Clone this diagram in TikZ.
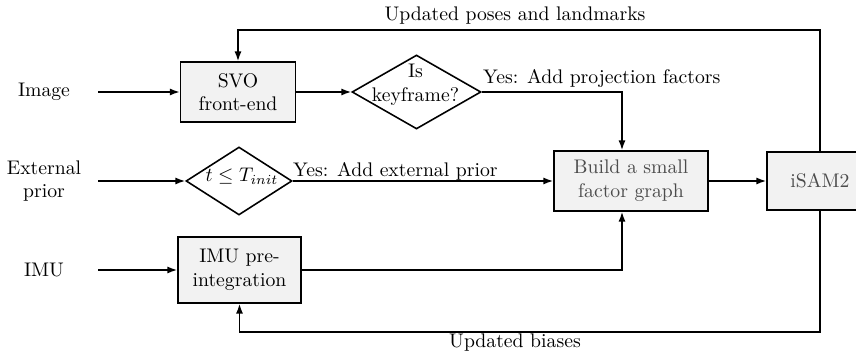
\documentclass[tikz,border=0pt]{standalone}
\usetikzlibrary{arrows.meta,shapes.geometric,calc}
\def\upx{0.5076pt}
\begin{document}
\begin{tikzpicture}[x=\upx,y=-\upx,
  every node/.style={font=\fontsize{10}{12}\selectfont},
  block/.style={draw,thick,fill=black!5,align=center,inner sep=0pt},
  decision/.style={draw,thick,diamond,inner sep=0pt},
  lbl/.style={align=center},
  arr/.style={thick,-{Latex[length=5pt,width=3.6pt]}},
  wire/.style={thick}]
  \useasboundingbox (0,0) rectangle (856,355);
  \clip (0,0) rectangle (856,355);

  % inputs
  \node[lbl] (img) at (44,92) {Image};
  \node[lbl] (ext) at (44,181) {External\\prior};
  \node[lbl] (imu) at (44,270) {IMU};
  \coordinate (inimg) at (98,92);
  \coordinate (inext) at (98,181);
  \coordinate (inimu) at (98,270);

  % processing blocks
  \node[block,minimum width=115*\upx,minimum height=60*\upx] (svo) at (238,92) {SVO\\front-end};
  \node[decision,minimum width=129*\upx,minimum height=74*\upx,
        label={[xshift=-1*\upx,yshift=7*\upx]center:{\begin{tabular}{@{}c@{}}Is\\keyframe?\end{tabular}}}] (kf) at (416.5,92) {};
  \node[decision,minimum width=106*\upx,minimum height=68*\upx,
        label={[xshift=3*\upx,yshift=5*\upx]center:{$t\leq T_{init}$}}] (tin) at (239,181) {};
  \node[block,minimum width=123*\upx,minimum height=66*\upx] (pre) at (239.5,270) {IMU pre-\\integration};
  \node[block,text=black!70,minimum width=154*\upx,minimum height=60*\upx] (build) at (631,181) {Build a small\\factor graph};
  \node[block,text=black!70,minimum width=106*\upx,minimum height=58*\upx] (isam) at (820,181) {iSAM2};

  \coordinate (bt) at ([xshift=-9*\upx]build.north);
  \coordinate (bb) at ([xshift=-9*\upx]build.south);
  \coordinate (topy) at (0,30);
  \coordinate (boty) at (0,332);

  % connectors
  \draw[arr] (inimg) -- (svo.west);
  \draw[arr] (inext) -- (tin.west);
  \draw[arr] (inimu) -- (pre.west);
  \draw[arr] (svo.east) -- (kf.west);
  \draw[arr] (kf.east) -| (bt);
  \draw[arr] (tin.east) -- (build.west);
  \draw[arr] (pre.east) -| (bb);
  \draw[arr] (build.east) -- (isam.west);
  \draw[arr] (isam.north) |- (topy -| svo.north) -- (svo.north);
  \draw[arr] (isam.south) |- (boty -| pre.south) -- (pre.south);

  % connector labels
  \node[anchor=south west,inner sep=0pt] (yproj) at ([shift={(1,-4)}]kf.east) {Yes: Add projection factors};
  \node[anchor=south west,inner sep=0pt] (yext) at (tin.east) {Yes: Add external prior};
  \node (upd) at (515,16) {Updated poses and landmarks};
  \node (bias) at (515,343) {Updated biases};
\end{tikzpicture}
\end{document}
